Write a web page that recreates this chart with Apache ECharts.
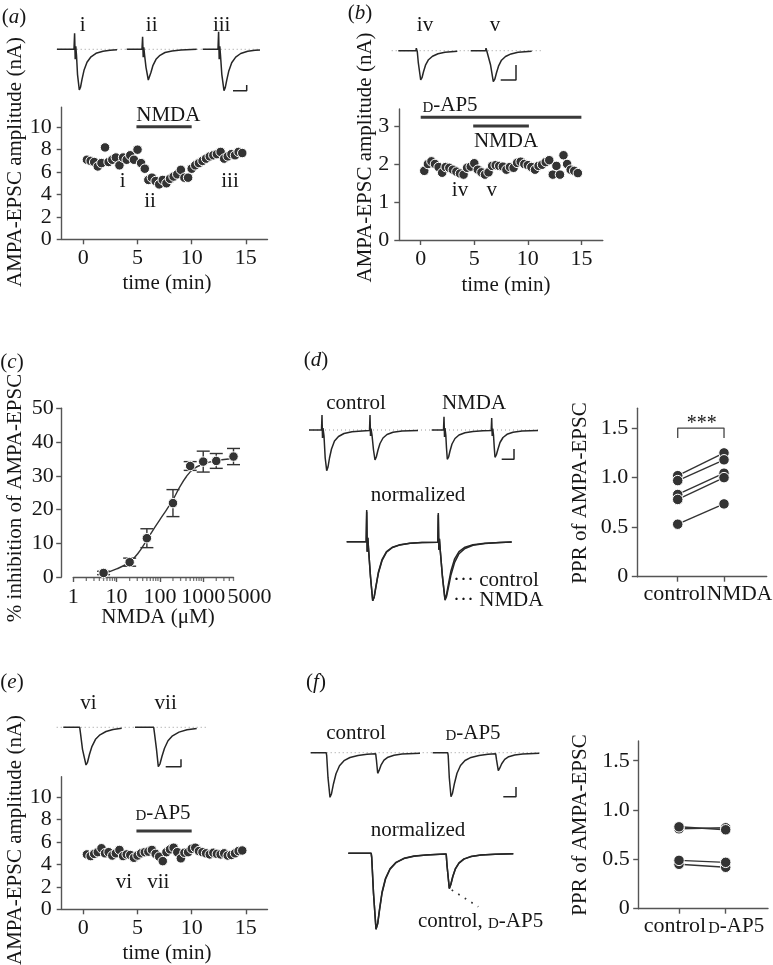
<!DOCTYPE html>
<html><head><meta charset="utf-8">
<script src="https://cdn.jsdelivr.net/npm/echarts@6/dist/echarts.min.js"></script>
<style>html,body{margin:0;padding:0;background:#fff}#c{width:773px;height:965px}</style>
</head><body><div id="c"></div>
<script>
// ---------------- DATA ----------------
const timeMin = [0.33,0.67,1.0,1.33,1.67,2.0,2.33,2.67,3.0,3.33,3.67,4.0,4.33,4.67,5.0,5.33,5.67,6.0,6.33,6.67,7.0,7.33,7.67,8.0,8.33,8.67,9.0,9.33,9.67,10.0,10.33,10.67,11.0,11.33,11.67,12.0,12.33,12.67,13.0,13.33,13.67,14.0,14.33,14.67];
const ampA = [7.1,7.0,6.9,6.5,6.8,8.2,6.9,7.1,7.3,6.6,7.3,7.1,7.5,7.1,8.0,6.8,6.3,5.3,5.5,5.2,4.9,5.3,5.0,5.4,5.6,5.8,6.2,5.5,5.5,6.3,6.6,6.8,7.0,7.2,7.4,7.5,7.6,7.8,7.2,7.4,7.6,7.5,7.8,7.7];
const ampB = [1.82,2.0,2.07,2.0,1.92,1.77,1.92,1.9,1.85,1.8,1.75,1.72,1.9,1.93,2.02,1.85,1.78,1.72,1.78,1.95,1.97,1.95,1.93,1.85,1.92,1.9,2.03,2.06,2.0,1.97,1.92,1.85,1.95,1.98,2.05,2.1,1.72,1.95,1.72,2.23,2.0,1.85,1.82,1.76];
const ampE = [4.9,4.75,4.95,5.1,5.45,5.0,5.1,4.8,5.0,5.3,4.75,4.9,4.85,4.6,4.8,5.0,5.1,5.15,5.3,4.95,4.7,4.3,5.1,5.35,5.5,5.1,4.55,5.05,5.1,5.4,5.5,5.2,5.1,5.0,4.9,5.05,4.95,4.9,5.0,4.8,4.85,5.0,5.2,5.25];
const timeTicks = [0,5,10,15];
const ampTicksA = [0,2,4,6,8,10];
const ampTicksB = [0,1,2,3];
const nmdaWinA = [4.9,10.0];
const dap5WinB = [0,15];
const nmdaWinB = [4.9,10.1];
const dap5WinE = [4.9,10.0];

const concNMDA = [5,20,50,200,500,1000,2000,5000];
const inhibMean = [1.2,4.4,11.5,21.9,32.9,34.2,34.4,35.7];
const inhibSEM = [0.5,1.2,2.8,4.0,1.3,3.1,2.2,2.4];
const fitConc = [5,10,20,31.6,50,70,100,142,200,290,410,590,1000,2000,5000];
const fitInhib = [1.0,2.4,4.4,7.1,11.0,14.0,17.0,19.9,22.9,26.8,29.8,32.0,33.5,34.5,35.1];
const concMajorTicks = [1,10,100,1000];
const concEndTick = [5000];
const concMinorTicks = [2,3,4,5,6,7,8,9,20,30,40,50,60,70,80,90,200,300,400,500,600,700,800,900,2000,3000,4000,5000];
const inhibTicks = [0,10,20,30,40,50];

const pprCtrlD = [1.02,0.97,0.83,0.78,0.53];
const pprNmdaD = [1.25,1.18,1.045,1.0,0.735];
const pprCtrlF = [0.81,0.83,0.45,0.49];
const pprDap5F = [0.82,0.80,0.42,0.47];
const pprTicks = [0,0.5,1.0,1.5];
const pairCats = [1,2];

// example traces (time, current; arbitrary units)
const traceI = [[2,0],[19,0],[19.6,16],[20.2,-10],[20.8,3],[21.5,-6],[22.5,-25],[24.3,-40.7],[25.5,-38],[27,-30],[29,-21],[32,-13],[36,-7.5],[41,-4],[48,-2],[55,-1],[62,-0.5]];
const traceII = [[71.7,0],[87,0],[87.6,12.6],[88.2,-8],[88.8,2],[89.5,-5],[91,-18],[93.3,-30.7],[94.5,-29],[96,-23],[98,-16],[101,-10],[105,-6],[110,-3.2],[117,-1.6],[126,-0.7],[141.7,0]];
const traceIII = [[147.7,0],[163,0],[163.6,17.6],[164.2,-10],[164.8,3],[165.5,-6],[166.8,-25],[169,-41.4],[170.2,-38.5],[171.7,-31],[173.7,-22],[176.7,-13.5],[180.7,-7.8],[185.7,-4.2],[192.7,-2],[200,-1],[205,-0.6]];
const baseA = [[1.7,0],[205,0]];
const scaleA = [[178,-41.4],[191.7,-41.4],[191.7,-35.7]];

const traceIV = [[8.3,0],[26,0],[26.3,2.5],[27,2.5],[27.3,-1],[28.3,-12],[30.7,-29.3],[32,-27],[33.5,-21],[35.5,-14.5],[38.5,-9],[42.5,-5.5],[48,-3],[55,-1.5],[67.3,-0.5]];
const traceV = [[80.7,0],[95.7,0],[96,2.5],[96.7,2.5],[97,-1],[100.5,-14],[103.3,-31],[104.8,-28.5],[106.5,-22],[108.5,-15.5],[111.5,-9.5],[115.5,-5.8],[121,-3.2],[128,-1.6],[141.7,-0.5]];
const baseB = [[1.7,0],[153.3,0]];
const scaleB = [[110.7,-29.3],[126,-29.3],[126,-14.3]];

const traceVI = [[8.3,0],[24.7,0],[25.5,-6],[27.5,-22],[31,-37.7],[32.5,-35],[34.5,-27],[37,-19],[40.5,-12],[45,-7.5],[51,-4.2],[58,-2.2],[66.7,-1]];
const traceVII = [[80,0],[98.7,0],[99.5,-6],[101.5,-22],[103.3,-39.4],[105,-36.5],[107,-29],[109.5,-21],[113,-13.5],[117.5,-8.5],[124,-4.8],[132,-2.5],[141.7,-1.2]];
const baseE = [[1.7,0],[151.7,0]];
const scaleE = [[110.7,-39.4],[126,-39.4],[126,-32]];

const pairCtrlD = [[9,0],[21.5,0],[22,15],[22.5,-8],[23,2],[24,-6],[25.2,-28],[26.7,-40.7],[28,-37],[29.5,-28],[31.5,-19],[34.5,-11],[38.5,-6.5],[44,-3.5],[52,-1.8],[62,-0.9],[69.5,-0.6],[70,15],[70.5,-6],[71,1.5],[72,-5],[73.5,-20],[75,-30],[76.3,-27],[78,-20],[80,-13.5],[83,-8],[87,-4.5],[93,-2.3],[102,-1.1],[118,-0.4]];
const pairNmdaD = [[131.7,0],[143.5,0],[144,13.3],[144.5,-7],[145,2],[145.8,-5],[146.5,-18],[147.3,-29.3],[148.6,-27],[150,-21],[152,-14],[155,-8.5],[159,-5],[165,-2.7],[173,-1.4],[183,-0.7],[191.2,-0.5],[191.7,12],[192.2,-6],[192.7,1.5],[193.5,-5],[194.3,-18],[195,-27.3],[196.3,-25],[198,-19],[200,-12.5],[203,-7.5],[207,-4.3],[213,-2.2],[222,-1.1],[238,-0.4]];
const baseD = [[9,0],[238,0]];
const scaleD = [[201.7,-29.3],[214,-29.3],[214,-19]];
const normCtrlD = [[6.7,0],[26.2,0],[26.7,31.7],[27.2,-10],[27.8,4],[28.6,-8],[30.5,-35],[32.7,-59],[34.2,-55],[36,-44],[38.5,-30],[42,-18],[46.5,-10],[52.5,-5.5],[60,-3],[70,-1.5],[82,-0.8],[97.8,-0.5],[98.3,28.7],[98.8,-8],[99.4,3],[100.2,-8],[102.5,-35],[105,-57.6],[106.5,-53],[108.5,-42],[111,-29],[114.5,-17.5],[119,-10],[125,-5.5],[133,-3],[145,-1.5],[160,-0.7],[171.7,-0.4]];
const normNmdaD = [[6.7,0],[26.2,0],[26.7,30],[27.2,-10],[27.8,4],[28.6,-8],[30.5,-35],[32.7,-59],[34.2,-55.5],[36,-45],[38.5,-31],[42,-19],[46.5,-10.5],[52.5,-5.8],[60,-3.2],[70,-1.6],[82,-0.9],[97.8,-0.5],[98.3,27],[98.8,-8],[99.4,3],[100.2,-8],[102.5,-36],[105,-58.5],[106.5,-55],[108.5,-45.5],[111,-33],[114.5,-21],[119,-12],[125,-6.8],[133,-3.6],[145,-1.8],[160,-0.8],[171.7,-0.4]];

const pairCtrlF = [[10.7,0],[26.2,0],[26.7,-3],[28,-25],[30,-44.6],[31.5,-41],[33.5,-31],[36,-21],[39.5,-13],[44,-8],[50,-4.8],[58,-2.8],[67,-1.6],[75.7,-1.1],[76.5,-8],[77.7,-20.6],[79,-18],[81,-12.5],[84,-7.5],[88,-4.5],[94,-2.5],[102,-1.4],[120,-0.5]];
const pairDap5F = [[132.7,0],[147.7,0],[148.2,-3],[149.3,-25],[151,-44],[152.5,-40.5],[154.5,-30.5],[157,-20.5],[160.5,-12.8],[165,-7.8],[171,-4.7],[179,-2.7],[188,-1.6],[195.7,-1.1],[196.5,-7],[198.3,-18],[199.7,-15.5],[201.7,-11],[204.7,-6.7],[208.7,-4],[214.7,-2.3],[222.7,-1.3],[239.3,-0.5]];
const baseF = [[10.7,0],[239.3,0]];
const scaleF = [[203.3,-44],[216,-44],[216,-34.3]];
const normCtrlF = [[8.3,0],[31.2,0],[31.7,-4],[33.5,-40],[36,-76],[37.7,-70],[39.5,-56],[42,-39],[45.5,-25],[50,-15.5],[56,-9],[64,-5],[74,-2.8],[86,-1.6],[100,-0.9],[106.2,-0.7],[107,-12],[109.3,-35],[110.8,-31],[112.8,-23],[115.5,-15],[119,-9.5],[124,-5.6],[131,-3.2],[141,-1.8],[155,-0.9],[173.3,-0.4]];
const normDap5F = [[8.3,0],[31.2,0],[31.7,-4],[33.5,-40],[36,-76],[37.7,-70.5],[39.5,-57],[42,-40],[45.5,-26],[50,-16],[56,-9.4],[64,-5.2],[74,-2.9],[86,-1.6],[100,-0.9],[106.2,-0.7],[107,-12],[109.3,-35.5],[110.8,-31.5],[112.8,-23.5],[115.5,-15.5],[119,-9.8],[124,-5.8],[131,-3.3],[141,-1.8],[155,-0.9],[173.3,-0.4]];
const leaderF = [[111.7,-36.7],[138.3,-53.4]];

// ---------------- STYLE / BUILD ----------------
const FONTF = '"Liberation Serif","Times New Roman",serif';
const INK = '#161616';
const AX = '#555';
const DOT = '#333';
const TICKFS = 22;

const grids = [
  {left:61.7, top:107.1, width:205.8, height:132.2},   // 0 a
  {left:399.3, top:108.9, width:203.5, height:131.1},  // 1 b
  {left:73.3, top:408.3, width:160.2, height:168.7},   // 2 c
  {left:637.3, top:408.3, width:129.4, height:168.4},  // 3 d
  {left:61.7, top:776.7, width:205.8, height:132.6},   // 4 e
  {left:638.7, top:741, width:129.3, height:167.7},    // 5 f
  {left:55, top:24.3, width:210, height:70},           // 6 a traces
  {left:390, top:30.7, width:160, height:55},          // 7 b traces
  {left:300, top:410, width:240, height:65},           // 8 d traces
  {left:340, top:506.7, width:180, height:97},         // 9 d normalized
  {left:55, top:717.3, width:160, height:55},          // 10 e traces
  {left:300, top:742.7, width:250, height:60},         // 11 f traces
  {left:340, top:843.3, width:180, height:90}          // 12 f normalized
].map(g => Object.assign(g, {containLabel:false, outerBoundsMode:'none', show:false}));

const rt = (extra) => Object.assign({fontFamily:FONTF, fontSize:TICKFS, color:INK, verticalAlign:'bottom'}, extra || {});

function numAxis(gi, min, max, ticks, o) {
  o = o || {};
  return {
    gridIndex: gi, type: o.type || 'value', min: min, max: max, offset: o.offset || 0,
    position: o.pos, logBase: 10,
    axisLine: {show:true, onZero:false, lineStyle:{color:AX, width:1.4}},
    axisTick: {show:true, inside:false, length:o.tickLen || 5, customValues:o.tickValues || ticks, lineStyle:{color:AX, width:1.4}},
    axisLabel: {show:true, customValues:o.labelValues || ticks, margin:o.margin || 8, fontFamily:FONTF, fontSize:TICKFS, color:INK,
      showMinLabel:true, showMaxLabel:true, hideOverlap:false,
      formatter: o.fmt || (v => String(Math.round(v*100)/100)), rich: o.rich || {}},
    splitLine:{show:false}, minorTick:{show:false}, minorSplitLine:{show:false}
  };
}
// an axis that only carries one extra label (no line, no ticks)
function labelAxis(gi, type, min, max, values, text, rich, margin) {
  return {
    gridIndex: gi, type: type, min: min, max: max, position:'bottom', logBase:10,
    axisLine:{show:false}, axisTick:{show:false}, splitLine:{show:false},
    axisLabel:{show:true, customValues:values, margin:margin, fontFamily:FONTF, fontSize:TICKFS, color:INK,
      showMinLabel:true, showMaxLabel:true, formatter: () => text, rich: rich}
  };
}
function hid(gi, min, max) { return {gridIndex:gi, type:'value', min:min, max:max, show:false}; }

const pprFmt = v => (v === 0 ? '0' : v.toFixed(1));
const xAxes = [
  numAxis(0, -2, 17, timeTicks, {margin:8, pos:'bottom'}),
  numAxis(1, -2, 17, timeTicks, {margin:8, pos:'bottom'}),
  numAxis(2, 1, 5000, concMajorTicks, {type:'log', margin:9, pos:'bottom', fmt: v => String(Math.round(v))}),
  numAxis(3, 0.127, 2.922, pairCats, {margin:7, pos:'bottom', labelValues:[pairCats[0]], fmt: () => '{a|control}',
    rich:{a:rt({padding:[0,6,0,0]})}}),
  numAxis(4, -2, 17, timeTicks, {margin:8, pos:'bottom'}),
  numAxis(5, 0.137, 2.906, pairCats, {margin:7, pos:'bottom', labelValues:[pairCats[0]], fmt: () => '{a|control}',
    rich:{a:rt({padding:[0,8,0,0]})}}),
  hid(6,0,210), hid(7,0,160), hid(8,0,240), hid(9,0,180), hid(10,0,160), hid(11,0,250), hid(12,0,180),
  labelAxis(3, 'value', 0.127, 2.922, [pairCats[1]], '{b|NMDA}', {b:rt({fontSize:21.5, padding:[0,0,0,31]})}, 7),
  labelAxis(5, 'value', 0.137, 2.906, [pairCats[1]], '{s|D}{b|-AP5}', {s:rt({fontSize:16, padding:[0,0,0,21]}), b:rt({fontSize:21})}, 7),
  labelAxis(2, 'log', 1, 5000, concEndTick, '{e|5000}', {e:rt({padding:[0,0,0,32]})}, 9)
];
const yAxes = [
  numAxis(0, 0, 11.8, ampTicksA, {margin:10, pos:'left'}),
  numAxis(1, 0, 3.45, ampTicksB, {margin:10, pos:'left'}),
  numAxis(2, 0, 50, inhibTicks, {margin:8, offset:11.6, tickLen:5.5, pos:'left'}),
  numAxis(3, 0, 1.7, pprTicks, {margin:9, fmt:pprFmt, tickLen:5.5, pos:'left'}),
  numAxis(4, 0, 11.84, ampTicksA, {margin:10, pos:'left'}),
  numAxis(5, 0, 1.7, pprTicks, {margin:9, fmt:pprFmt, tickLen:5.5, pos:'left'}),
  hid(6,-45,25), hid(7,-35,20), hid(8,-45,20), hid(9,-62,35), hid(10,-45,10), hid(11,-50,10), hid(12,-80,10)
];

const zip = (xs, ys) => xs.map((x, i) => [x, ys[i]]);
const dotStyle = {color:DOT, borderColor:'#fff', borderWidth:1, opacity:1};

function dots(gi, data, size) {
  return {type:'scatter', xAxisIndex:gi, yAxisIndex:gi, data:data, symbol:'circle', symbolSize:size,
    itemStyle:dotStyle, clip:false, silent:true, z:3};
}
function line(gi, data, o) {
  o = o || {};
  return {type:'line', xAxisIndex:gi, yAxisIndex:gi, data:data, symbol:'none', clip:false, silent:true,
    lineStyle:{color:o.color || '#262626', width:o.width || 1.5, type:o.type || 'solid', cap:'butt'}, z:o.z || 2};
}
function bar(gi, win, level) { return line(gi, [[win[0], level], [win[1], level]], {color:'#3a3a3a', width:3}); }
function base(gi, data) { return line(gi, data, {color:'#9a9a9a', width:1, type:[1,3], z:1}); }

const series = [];
// (a)
series.push(bar(0, nmdaWinA, 10.05));
series.push(dots(0, zip(timeMin, ampA), 9.5));
// (b)
series.push(bar(1, dap5WinB, 3.23));
series.push(bar(1, nmdaWinB, 3.0));
series.push(dots(1, zip(timeMin, ampB), 9.5));
// (e)
series.push(bar(4, dap5WinE, 6.99));
series.push(dots(4, zip(timeMin, ampE), 9.5));
// (c)
series.push({
  type:'custom', xAxisIndex:2, yAxisIndex:2, silent:true, z:2,
  data: concNMDA.map((c, i) => [c, inhibMean[i] - inhibSEM[i], inhibMean[i] + inhibSEM[i]]),
  encode:{x:0, y:[1,2]},
  renderItem: function (params, api) {
    const x = api.value(0), lo = api.value(1), hi = api.value(2);
    const p1 = api.coord([x, hi]), p2 = api.coord([x, lo]);
    const w = 6.5, st = {stroke:'#333', lineWidth:1.4};
    return {type:'group', children:[
      {type:'line', shape:{x1:p1[0], y1:p1[1], x2:p2[0], y2:p2[1]}, style:st},
      {type:'line', shape:{x1:p1[0]-w, y1:p1[1], x2:p1[0]+w, y2:p1[1]}, style:st},
      {type:'line', shape:{x1:p2[0]-w, y1:p2[1], x2:p2[0]+w, y2:p2[1]}, style:st}
    ]};
  }
});
series.push(Object.assign(line(2, zip(fitConc, fitInhib), {color:'#333', width:1.4}), {smooth:0.4}));
series.push({type:'scatter', xAxisIndex:2, yAxisIndex:2, data:concMinorTicks.map(v => [v, 0]), symbol:'rect',
  symbolSize:[1.3, 3.5], symbolOffset:[0, 2.2], itemStyle:{color:AX}, clip:false, silent:true, z:1});
series.push(dots(2, zip(concNMDA, inhibMean), 9.5));
// (d) pairs
series.push(line(3, [[1,1.4],[1,1.5],[2,1.5],[2,1.4]], {color:'#444', width:1.3}));
pprCtrlD.forEach((v, i) => {
  series.push({type:'line', xAxisIndex:3, yAxisIndex:3, data:[[pairCats[0], v], [pairCats[1], pprNmdaD[i]]],
    symbol:'circle', symbolSize:10.5, showSymbol:true, itemStyle:dotStyle, lineStyle:{color:'#333', width:1.4},
    silent:true, clip:false, z:3});
});
// (f) pairs
pprCtrlF.forEach((v, i) => {
  series.push({type:'line', xAxisIndex:5, yAxisIndex:5, data:[[pairCats[0], v], [pairCats[1], pprDap5F[i]]],
    symbol:'circle', symbolSize:10.5, showSymbol:true, itemStyle:dotStyle, lineStyle:{color:'#333', width:1.4},
    silent:true, clip:false, z:3});
});
// traces
series.push(base(6, baseA), line(6, traceI), line(6, traceII), line(6, traceIII), line(6, scaleA, {width:1.5}));
series.push(base(7, baseB), line(7, traceIV), line(7, traceV), line(7, scaleB, {width:1.5}));
series.push(base(8, baseD), line(8, pairCtrlD), line(8, pairNmdaD), line(8, scaleD, {width:1.5}));
series.push(line(9, normCtrlD), line(9, normNmdaD));
series.push(base(10, baseE), line(10, traceVI), line(10, traceVII), line(10, scaleE, {width:1.5}));
series.push(base(11, baseF), line(11, pairCtrlF), line(11, pairDap5F), line(11, scaleF, {width:1.5}));
series.push(line(12, normCtrlF), line(12, normDap5F), line(12, leaderF, {color:'#333', width:1.7, type:[1.7,6]}));

// ---------------- TEXT ----------------
const RICH = {
  it:{fontFamily:FONTF, fontSize:21, fontStyle:'italic', fill:INK},
  sc:{fontFamily:FONTF, fontSize:15, fill:INK, verticalAlign:'bottom'},
  n:{fontFamily:FONTF, fontSize:21, fill:INK, verticalAlign:'bottom'}
};
function txt(x, y, text, o) {
  o = o || {};
  return {type:'text', x:x, y:y, rotation:o.rot || 0, silent:true, z:100,
    style:{text:text, fill:INK, fontFamily:FONTF, fontSize:o.size || 21, align:o.align || 'center',
      verticalAlign:'middle', rich:RICH}};
}
const R = Math.PI / 2;
const DAP5 = '{sc|D}{n|-AP5}';
const graphic = [
  txt(14,17,'({it|a})'), txt(360,13,'({it|b})'), txt(12,362,'({it|c})'),
  txt(316,360,'({it|d})'), txt(12,682,'({it|e})'), txt(316,682,'({it|f})'),
  txt(15,162,'AMPA-EPSC amplitude (nA)',{rot:R}), txt(167,283,'time (min)'),
  txt(365,157.5,'AMPA-EPSC amplitude (nA)',{rot:R}), txt(506,285,'time (min)'),
  txt(15,498,'% inhibition of AMPA-EPSC',{rot:R}), txt(158,617,'NMDA (\u03bcM)'),
  txt(580,493,'PPR of AMPA-EPSC',{rot:R}),
  txt(15,840,'AMPA-EPSC amplitude (nA)',{rot:R}), txt(167,953,'time (min)'),
  txt(580,825,'PPR of AMPA-EPSC',{rot:R}),
  txt(82.7,25,'i'), txt(151.7,25,'ii'), txt(221.7,25,'iii'),
  txt(425,25,'iv'), txt(495,25,'v'),
  txt(122.7,181.7,'i'), txt(150,201.7,'ii'), txt(230,181.7,'iii'), txt(168.3,115,'NMDA'),
  txt(450,105,DAP5), txt(506,141.7,'NMDA'), txt(460,190,'iv'), txt(491.7,190,'v'),
  txt(163,813.3,DAP5), txt(124,882.7,'vi'), txt(158.3,882.7,'vii'),
  txt(88.3,703,'vi'), txt(165.7,703,'vii'),
  txt(356,403,'control'), txt(474,403,'NMDA'), txt(418,495,'normalized'),
  txt(453,580,'\u00b7\u00b7\u00b7 control',{align:'left'}), txt(453,600,'\u00b7\u00b7\u00b7 NMDA',{align:'left'}),
  txt(701.7,424,'***',{size:20}),
  txt(356,733,'control'), txt(473,733,DAP5), txt(418,830,'normalized'),
  txt(418,921,'{n|control, }' + DAP5,{align:'left'})
];

const chart = echarts.init(document.getElementById('c'), null, {renderer:'canvas'});
chart.setOption({
  animation:false, backgroundColor:'#fff',
  grid:grids, xAxis:xAxes, yAxis:yAxes, series:series, graphic:graphic
});
</script></body></html>
